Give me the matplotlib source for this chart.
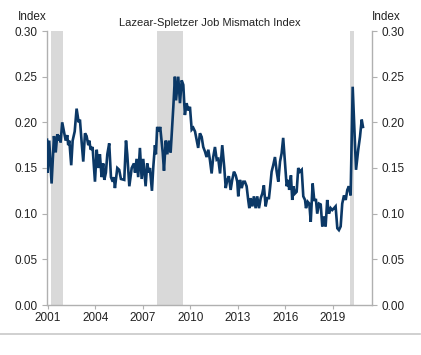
import matplotlib
matplotlib.use("Agg")
import matplotlib.pyplot as plt
from matplotlib.lines import Line2D

plt.rcParams['font.family'] = ['Liberation Sans', 'DejaVu Sans']

title = "Lazear-Spletzer Job Mismatch Index"
y_ticks = [0.00, 0.05, 0.10, 0.15, 0.20, 0.25, 0.30]
x_ticks = [2001, 2004, 2007, 2010, 2013, 2016, 2019]
recessions = [(2001.17, 2001.92), (2007.92, 2009.50), (2020.08, 2020.33)]

years = [
    2000.94, 2000.98, 2001.08, 2001.23, 2001.38, 2001.49, 2001.59, 2001.71, 2001.76, 2001.80,
    2001.90, 2002.01, 2002.12, 2002.22, 2002.28, 2002.35, 2002.47, 2002.56, 2002.69, 2002.81,
    2002.94, 2003.02, 2003.13, 2003.23, 2003.34, 2003.44, 2003.55, 2003.61, 2003.70, 2003.82,
    2003.97, 2004.08, 2004.18, 2004.28, 2004.39, 2004.49, 2004.56, 2004.66, 2004.75, 2004.87,
    2004.98, 2005.09, 2005.17, 2005.23, 2005.38, 2005.50, 2005.61, 2005.82, 2005.93, 2006.01,
    2006.14, 2006.29, 2006.43, 2006.50, 2006.60, 2006.70, 2006.81, 2006.92, 2007.02, 2007.17,
    2007.27, 2007.38, 2007.44, 2007.57, 2007.65, 2007.76, 2007.82, 2007.90, 2008.01, 2008.09,
    2008.25, 2008.33, 2008.44, 2008.54, 2008.64, 2008.75, 2008.92, 2009.02, 2009.09, 2009.23,
    2009.34, 2009.45, 2009.55, 2009.65, 2009.76, 2009.86, 2009.97, 2010.08, 2010.18, 2010.29,
    2010.39, 2010.49, 2010.60, 2010.71, 2010.81, 2010.92, 2011.02, 2011.13, 2011.23, 2011.34,
    2011.44, 2011.55, 2011.66, 2011.76, 2011.87, 2012.01, 2012.14, 2012.23, 2012.33, 2012.43,
    2012.54, 2012.64, 2012.75, 2012.86, 2012.96, 2013.02, 2013.13, 2013.24, 2013.34, 2013.44,
    2013.55, 2013.65, 2013.72, 2013.80, 2013.91, 2014.01, 2014.12, 2014.22, 2014.33, 2014.44,
    2014.54, 2014.64, 2014.75, 2014.85, 2014.96, 2015.04, 2015.13, 2015.23, 2015.34, 2015.45,
    2015.55, 2015.66, 2015.76, 2015.86, 2015.97, 2016.08, 2016.18, 2016.24, 2016.35, 2016.43,
    2016.50, 2016.60, 2016.71, 2016.81, 2016.92, 2017.03, 2017.13, 2017.24, 2017.30, 2017.41,
    2017.51, 2017.60, 2017.72, 2017.82, 2017.93, 2018.01, 2018.12, 2018.23, 2018.33, 2018.44,
    2018.54, 2018.64, 2018.75, 2018.86, 2018.96, 2019.07, 2019.17, 2019.28, 2019.38, 2019.49,
    2019.59, 2019.70, 2019.81, 2019.91, 2020.01, 2020.12, 2020.25, 2020.46, 2020.60, 2020.71,
    2020.82, 2020.90,
]
index_values = [
    0.181, 0.145, 0.180, 0.133, 0.185, 0.167, 0.187, 0.180, 0.186, 0.178,
    0.200, 0.190, 0.180, 0.186, 0.175, 0.180, 0.153, 0.180, 0.190, 0.215,
    0.200, 0.203, 0.178, 0.157, 0.188, 0.185, 0.175, 0.180, 0.170, 0.173,
    0.135, 0.170, 0.150, 0.165, 0.140, 0.155, 0.137, 0.145, 0.165, 0.177,
    0.140, 0.135, 0.140, 0.128, 0.150, 0.148, 0.138, 0.137, 0.180, 0.165,
    0.130, 0.150, 0.155, 0.145, 0.160, 0.140, 0.172, 0.138, 0.160, 0.130,
    0.155, 0.145, 0.150, 0.125, 0.150, 0.175, 0.165, 0.195, 0.190, 0.195,
    0.167, 0.147, 0.180, 0.165, 0.180, 0.167, 0.217, 0.250, 0.224, 0.250,
    0.221, 0.246, 0.241, 0.208, 0.221, 0.213, 0.217, 0.192, 0.194, 0.190,
    0.181, 0.172, 0.188, 0.184, 0.173, 0.168, 0.162, 0.170, 0.159, 0.144,
    0.162, 0.173, 0.159, 0.160, 0.144, 0.175, 0.150, 0.128, 0.137, 0.141,
    0.126, 0.137, 0.146, 0.142, 0.135, 0.119, 0.137, 0.128, 0.135, 0.135,
    0.130, 0.115, 0.106, 0.117, 0.108, 0.119, 0.106, 0.119, 0.106, 0.117,
    0.122, 0.131, 0.108, 0.117, 0.117, 0.130, 0.146, 0.153, 0.162, 0.146,
    0.135, 0.157, 0.166, 0.183, 0.157, 0.130, 0.137, 0.126, 0.142, 0.115,
    0.130, 0.122, 0.124, 0.150, 0.146, 0.148, 0.119, 0.115, 0.106, 0.113,
    0.111, 0.091, 0.133, 0.115, 0.115, 0.100, 0.111, 0.110, 0.086, 0.097,
    0.086, 0.115, 0.100, 0.106, 0.104, 0.106, 0.108, 0.084, 0.082, 0.086,
    0.111, 0.120, 0.115, 0.126, 0.130, 0.120, 0.239, 0.148, 0.170, 0.184,
    0.203, 0.195,
]

fig = plt.figure(figsize=(4.21, 3.55), dpi=100)
ax = fig.add_axes([47/421, 50/355, 325/421, 274/355])

for start, end in recessions:
    ax.axvspan(start, end, color='#d9d9d9', lw=0, zorder=1)

ax.plot(years, index_values, color='#0b3866', lw=1.9, zorder=3, solid_joinstyle='miter')

ax.set_xlim(2000.94, 2021.47)
ax.set_ylim(0, 0.30)
ax.set_yticks(y_ticks)
ax.set_yticklabels([f"{v:.2f}" for v in y_ticks])
ax.set_xticks(x_ticks)
ax.set_xticklabels([str(t) for t in x_ticks])

spine_color = '#b0b0b0'
for s in ['left', 'right', 'bottom']:
    ax.spines[s].set_color(spine_color)
    ax.spines[s].set_linewidth(1.0)
ax.spines['top'].set_visible(False)

ax.tick_params(axis='y', which='both', left=True, right=True, labelleft=True, labelright=True,
               direction='out', length=3.5, width=0.8, color=spine_color, labelsize=8.5,
               labelcolor='#222222', pad=3)
ax.tick_params(axis='x', direction='out', length=3, width=0.8, color=spine_color,
               labelsize=8.5, labelcolor='#222222', pad=2)

fig.text(47/421, 1 - 17.5/355, "Index", ha='right', va='center', fontsize=8.5, color='#222222')
fig.text(372/421, 1 - 17.5/355, "Index", ha='left', va='center', fontsize=8.5, color='#222222')
fig.text(210/421, 1 - 23/355, title, ha='center', va='center', fontsize=8.0, color='#222222')

fig.add_artist(Line2D([0, 420/421], [1 - 334/355, 1 - 334/355], transform=fig.transFigure,
                      color='#c8c8c8', lw=1.2))

fig.savefig("out.png", dpi=100)
